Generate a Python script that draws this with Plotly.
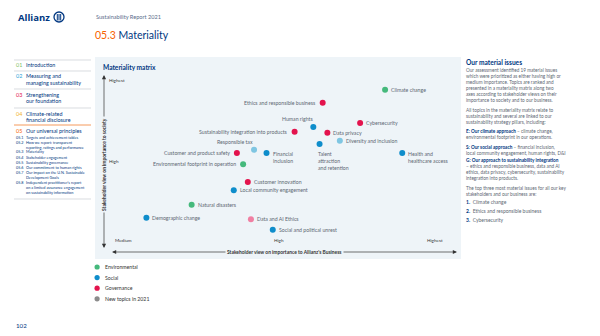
import plotly.graph_objects as go

W, H = 600, 336
FONT = "Lato"
DARK = "#003781"
GREY = "#5d6873"
PANEL = "#eef4f8"

# ---------------- data ----------------
topics = ["Climate change", "Ethics and responsible business", "Human rights", "Cybersecurity",
          "Sustainability integration into products", "Data privacy", "Diversity and inclusion",
          "Responsible tax", "Financial inclusion", "Customer and product safety",
          "Talent attraction and retention", "Health and healthcare access",
          "Environmental footprint in operation", "Customer innovation",
          "Local community engagement", "Natural disasters", "Demographic change",
          "Data and AI Ethics", "Social and political unrest"]
business = [2.68, 2.28, 2.22, 2.52, 2.10, 2.31, 2.39, 1.84, 1.92, 1.73, 2.26, 2.79,
            1.77, 1.80, 1.71, 1.44, 1.15, 1.82, 1.96]
society = [2.88, 2.72, 2.42, 2.47, 2.36, 2.35, 2.25, 2.14, 2.10, 2.10, 2.21, 2.10,
           1.96, 1.74, 1.64, 1.46, 1.30, 1.28, 1.15]
pillar = ["E", "G", "S", "G", "G", "G", "S", "S", "S", "G", "S", "S",
          "E", "G", "S", "E", "S", "G", "S"]
new_2021 = [False, False, False, False, False, False, True, True, False, False, False, False,
            False, False, False, False, False, True, False]
level_vals = [1, 2, 3]
x_tick_text = ["Medium", "High", "Highest"]
y_tick_vals = [2, 3]
y_tick_text = ["High", "Highest"]
legend_items = ["Environmental", "Social", "Governance", "New topics in 2021"]

# ---------------- style ----------------
COL = {("E", False): "#45b97c", ("S", False): "#0e8dcb", ("G", False): "#e3134d",
       ("S", True): "#7fc6e2", ("G", True): "#f07fa2"}
LEG_COL = ["#45b97c", "#0e8dcb", "#e3134d", "#8c8c8c"]
label_text = {"Financial inclusion": "Financial<br>inclusion",
              "Talent attraction and retention": "Talent<br>attraction<br>and retention",
              "Health and healthcare access": "Health and<br>healthcare access"}
# placement: (xanchor, yanchor, xshift, yshift)
place = {"Ethics and responsible business": ("right", "middle", -5, 0),
         "Sustainability integration into products": ("right", "middle", -5, 0),
         "Customer and product safety": ("right", "middle", -5, 0),
         "Environmental footprint in operation": ("right", "middle", -5, 0),
         "Human rights": ("center", "middle", -16, 8),
         "Responsible tax": ("center", "middle", -19, 8),
         "Talent attraction and retention": ("left", "top", -4, -5),
         "Financial inclusion": ("left", "top", 4, 4),
         "Health and healthcare access": ("left", "top", 4, 4)}

fig = go.Figure()

# axes mapping
x0px, x1px = 106, 458
y0px, y1px = 72, 245
def xs(px): return 1 + (px - 123) / 156
def ys(py): return 1 + (242 - py) / 81

for key, col in COL.items():
    idx = [i for i in range(len(topics)) if (pillar[i], new_2021[i]) == key]
    fig.add_trace(go.Scatter(x=[business[i] for i in idx], y=[society[i] for i in idx],
                             mode="markers", marker=dict(size=6, color=col),
                             hoverinfo="text", text=[topics[i] for i in idx], showlegend=False))

for i, t in enumerate(topics):
    xa, ya, dx, dy = place.get(t, ("left", "middle", 4, 0))
    fig.add_annotation(x=business[i], y=society[i], xref="x", yref="y",
                       text=label_text.get(t, t), showarrow=False, xanchor=xa, yanchor=ya,
                       xshift=dx, yshift=dy, align="left",
                       font=dict(size=5.2, color=GREY, family=FONT))

# x-axis level labels, placed on the x scale
for v, t in zip(level_vals, x_tick_text):
    fig.add_annotation(x=v, y=1 - 240 / H, xref="x", yref="paper", text=t, showarrow=False,
                       xanchor="center", yanchor="middle",
                       font=dict(size=4.6, color="#333", family=FONT))

fig.update_layout(
    width=W, height=H, margin=dict(l=0, r=0, t=0, b=0),
    paper_bgcolor="white", plot_bgcolor="rgba(0,0,0,0)",
    xaxis=dict(domain=[x0px / W, x1px / W], range=[xs(x0px), xs(x1px)],
               tickvals=level_vals, showticklabels=False,
               showgrid=False, zeroline=False, showline=False, ticks=""),
    yaxis=dict(domain=[1 - y1px / H, 1 - y0px / H], range=[ys(y1px), ys(y0px)],
               tickvals=y_tick_vals, ticktext=y_tick_text, ticklabelposition="inside",
               showgrid=False, zeroline=False, showline=False, ticks="",
               tickfont=dict(size=4.6, color="#333", family=FONT)),
    showlegend=False,
)

def px2p(px, py): return px / W, 1 - py / H

def txt(px, py, text, size, color, xanchor="left", yanchor="middle", family=FONT, bg=None, angle=0):
    x, y = px2p(px, py)
    kw = {}
    if bg: kw["bgcolor"] = bg
    fig.add_annotation(xref="paper", yref="paper", x=x, y=y, text=text, showarrow=False,
                       xanchor=xanchor, yanchor=yanchor, align="left" if xanchor != "center" else "center",
                       font=dict(size=size, color=color, family=family), textangle=angle, **kw)

def line(xa, ya, xb, yb, color, width=0.8):
    a = px2p(xa, ya); b = px2p(xb, yb)
    fig.add_shape(type="line", xref="paper", yref="paper", x0=a[0], y0=a[1], x1=b[0], y1=b[1],
                  line=dict(color=color, width=width))

# panel
p0 = px2p(95, 57); p1 = px2p(461, 259)
fig.add_shape(type="rect", xref="paper", yref="paper", x0=p0[0], y0=p1[1], x1=p1[0], y1=p0[1],
              fillcolor=PANEL, line=dict(width=0), layer="below")

txt(101, 67, "<b>Materiality matrix</b>", 6.6, DARK)

# arrows
def arrow(tipx, tipy, tailx, taily):
    x, y = px2p(tipx, tipy)
    fig.add_annotation(xref="paper", yref="paper", x=x, y=y, ax=tailx - tipx, ay=taily - tipy,
                       text="", showarrow=True, arrowhead=2, arrowsize=1.2, arrowwidth=0.7,
                       arrowcolor="#333")
arrow(104, 75, 104, 165); arrow(104, 248, 104, 165)
arrow(112, 252, 284, 252); arrow(457, 252, 284, 252)
txt(104, 165, "<b>Stakeholder view on importance to society</b>", 4.9, "#333", "center", bg=PANEL, angle=-90)
txt(284, 252, "<b>Stakeholder view on importance to Allianz's Business</b>", 4.9, "#333", "center", bg=PANEL)

# legend
for k, (name, c) in enumerate(zip(legend_items, LEG_COL)):
    cy = 267 + k * 10.6
    a = px2p(94.5, cy - 2.6); b = px2p(99.7, cy + 2.6)
    fig.add_shape(type="circle", xref="paper", yref="paper", x0=a[0], y0=b[1], x1=b[0], y1=a[1],
                  fillcolor=c, line=dict(width=0))
    txt(103, cy, name, 5.2, "#333")

# header
txt(16, 17, "<b>Allianz</b>", 9.5, DARK, family="Open Sans")
a = px2p(54, 12); b = px2p(64, 22)
fig.add_shape(type="circle", xref="paper", yref="paper", x0=a[0], y0=b[1], x1=b[0], y1=a[1],
              line=dict(color=DARK, width=1.3))
for xx in (57.3, 59, 60.7):
    line(xx, 14, xx, 20.5, DARK, 1.0)
txt(94, 16, "Sustainability Report 2021", 5.6, "#5a6d8a")
txt(93, 35, "<span style='color:#f86200'>05.3</span> Materiality", 10.5, DARK)

# left navigation
nav_lines = [60, 71, 89, 108]
for yy in nav_lines:
    line(14, yy, 91, yy, "#c9cdd2", 0.7)
line(14, 125, 91, 125, "#f59a5c", 1.0)
line(14, 199, 91, 199, "#c9cdd2", 0.7)
nav = [("01", "#7fbf5f", ["Introduction"], 65),
       ("02", "#2a9fd8", ["Measuring and", "managing sustainability"], 76),
       ("03", "#e3134d", ["Strengthening", "our foundation"], 95),
       ("04", "#f2b32a", ["Climate-related", "financial disclosure"], 114),
       ("05", "#f86200", ["Our universal principles"], 131)]
for num, c, lines, y0 in nav:
    txt(14, y0, num, 5.4, c)
    for j, l in enumerate(lines):
        txt(24, y0 + j * 6.5, l, 5.4, DARK)
subs = [("05.1", "Targets and achievement tables"), ("05.2", "How we report: transparent"),
        ("", "reporting, ratings and performance"), ("05.3", "Materiality"),
        ("05.4", "Stakeholder engagement"), ("05.5", "Sustainability governance"),
        ("05.6", "Our commitment to human rights"), ("05.7", "Our impact on the U.N. Sustainable"),
        ("", "Development Goals"), ("05.8", "Independent practitioner's report"),
        ("", "on a limited assurance engagement"), ("", "on sustainability information")]
for j, (n, s) in enumerate(subs):
    yy = 137 + j * 5.0
    if n:
        txt(14, yy, n, 3.8, DARK)
    txt(24, yy, s, 3.8, DARK)

txt(14, 325, "102", 6.2, DARK)

# right column
txt(464, 62, "<b>Our material issues</b>", 6.6, DARK)
paras = [(70, ["Our assessment identified 19 material issues",
               "which were prioritized as either having high or",
               "medium importance. Topics are ranked and",
               "presented in a materiality matrix along two",
               "axes according to stakeholder views on their",
               "importance to society and to our business."]),
         (110, ["All topics in the materiality matrix relate to",
                "sustainability and several are linked to our",
                "sustainability strategy pillars, including:"]),
         (131, ["<b style='color:#003781'>E: Our climate approach</b> – climate change,",
                "environmental footprint in our operations."]),
         (147, ["<b style='color:#003781'>S: Our social approach</b> – financial inclusion,",
                "local community engagement, human rights, D&I"]),
         (160, ["<b style='color:#003781'>G: Our approach to sustainability integration</b>",
                "– ethics and responsible business, data and AI",
                "ethics, data privacy, cybersecurity, sustainability",
                "integration into products."]),
         (188, ["The top three most material issues for all our key",
                "stakeholders and our business are:"])]
for y0, ls in paras:
    for j, l in enumerate(ls):
        txt(464, y0 + j * 6.0, l, 4.7, GREY)
for j, item in enumerate(["Climate change", "Ethics and responsible business", "Cybersecurity"]):
    txt(464, 202 + j * 9, f"<b style='color:#003781'>{j + 1}.</b>  {item}", 5.0, GREY)

fig.write_html("out.html")
